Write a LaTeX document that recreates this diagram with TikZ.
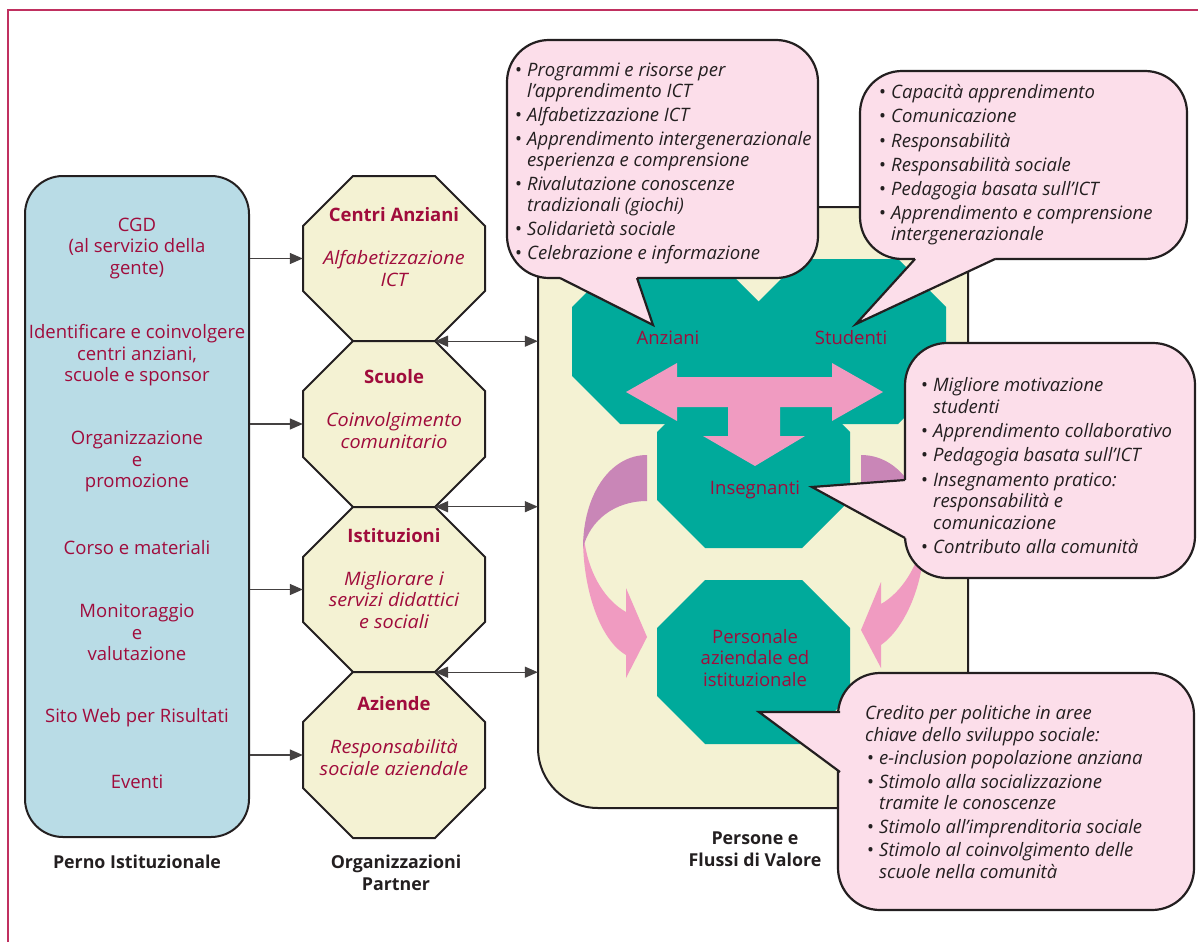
\documentclass[tikz,border=0pt]{standalone}
\usepackage{fontspec}
\setmainfont{Open Sans}
\newfontfamily\wideos{Open Sans}[FakeStretch=1.07]
\usetikzlibrary{arrows.meta}
\definecolor{crim}{RGB}{160,12,60}
\definecolor{ink}{RGB}{35,31,32}
\definecolor{framec}{RGB}{192,48,96}
\definecolor{bluef}{RGB}{185,220,230}
\definecolor{creamf}{RGB}{244,242,211}
\definecolor{tealf}{RGB}{0,170,155}
\definecolor{pinka}{RGB}{240,155,193}
\definecolor{mauve}{RGB}{201,134,183}
\definecolor{callf}{RGB}{252,222,234}
\newcommand\fs{\fontsize{18.5}{21.5}\selectfont}
\newcommand\bul{\makebox[12pt][l]{\upshape\textbullet}}
\newcommand\ind{\hspace*{12pt}}
\newcommand\wit[1]{{\wideos\itshape #1}}
\tikzset{
  octo/.style n args={5}{insert path={({#1+#5},#2) -- ({#3-#5},#2) -- (#3,{#2+#5}) -- (#3,{#4-#5}) -- ({#3-#5},#4) -- ({#1+#5},#4) -- (#1,{#4-#5}) -- (#1,{#2+#5}) -- cycle}},
  bluebox/.style={draw=ink, line width=2pt, fill=bluef, rounded corners=38pt, inner sep=0pt},
  bluetext/.style={font=\fs, text=crim, align=center},
  partoct/.style={draw=ink, line width=2pt, fill=creamf},
  hold/.style={inner sep=0pt, minimum width=182pt, minimum height=165pt},
  parttext/.style={font=\fs, text=crim, align=center},
  yelbox/.style={draw=ink, line width=2pt, fill=creamf},
  teallab/.style={font=\fs, text=crim, align=center},
  conn/.style={draw=ink!85, line width=1.3pt, -{Triangle[length=13pt,width=11pt]}},
  dconn/.style={draw=ink!85, line width=1.3pt, {Triangle[length=13pt,width=11pt]}-{Triangle[length=13pt,width=11pt]}},
  callbody/.style={fill=callf, draw=ink, line width=2.2pt, rounded corners=42pt},
  callline/.style={draw=ink, line width=2.2pt, line join=miter},
  calltext/.style={font=\fs\itshape, text=ink, inner sep=0pt, anchor=north west, align=left},
  botlab/.style={font=\fontsize{17.8}{21.5}\selectfont\bfseries, text=ink, align=center}
}
\begin{document}
\begin{tikzpicture}[x=1pt,y=-1pt]
\useasboundingbox (0,0) rectangle (1198,942);
% frame
\draw[framec, line width=1.5pt] (8,942) -- (8,10) -- (1198,10);

% left blue box
\node[bluebox, minimum width=224pt, minimum height=661pt] (blue) at (137,506.5) {};
\node[bluetext] (b1) at (137,248.5) {CGD\\(al servizio della\\gente)};
\node[bluetext] (b2) at (137,355.5) {Identificare e coinvolgere\\centri anziani,\\scuole e sponsor};
\node[bluetext] (b3) at (137,461.5) {Organizzazione\\e\\promozione};
\node[bluetext] (b4) at (137,548) {Corso e materiali};
\node[bluetext] (b5) at (137,632.5) {Monitoraggio\\e\\valutazione};
\node[bluetext] (b6) at (137,718) {Sito Web per Risultati};
\node[bluetext] (b7) at (137,782) {Eventi};

% partner octagons
\draw[partoct, octo={303}{176}{485}{341}{50}];
\draw[partoct, octo={303}{341}{485}{507}{50}];
\draw[partoct, octo={303}{507}{485}{672}{50}];
\draw[partoct, octo={303}{672}{485}{838}{50}];
\node[hold] (p1) at (394,258.5) {};
\node[hold] (p2) at (394,424) {};
\node[hold] (p3) at (394,589.5) {};
\node[hold] (p4) at (394,755) {};
\node[parttext] (t1) at (394,247) {\textbf{Centri Anziani}\\[21.5pt]\wit{Alfabetizzazione}\\\wit{ICT}};
\node[parttext] (t2) at (394,409) {\textbf{Scuole}\\[21.5pt]\wit{Coinvolgimento}\\\wit{comunitario}};
\node[parttext] (t3) at (394,578.5) {\textbf{Istituzioni}\\[21.5pt]\wit{Migliorare i}\\\wit{servizi didattici}\\\wit{e sociali}};
\node[parttext] (t4) at (394,736) {\textbf{Aziende}\\[21.5pt]\wit{Responsabilità}\\\wit{sociale aziendale}};

% yellow box
\draw[yelbox] (538,207) -- (968,207) -- (968,808) -- (598,808) .. controls (565,808) and (538,781) .. (538,748) -- cycle;
\node[inner sep=0pt, minimum width=430pt, minimum height=601pt] (yel) at (753,507.5) {};

% teal octagons
\fill[tealf, octo={572}{259}{764}{424}{48}];
\fill[tealf, octo={753}{259}{946}{424}{48}];
\fill[tealf, octo={657}{384}{850}{548}{48}];
\fill[tealf, octo={657}{580}{850}{744}{48}];

% pink T arrow
\fill[pinka] (626,392) -- (677,363) -- (677,377) -- (832,377) -- (832,363) -- (883,392) -- (832,421) -- (832,407) -- (780,407) -- (780,436) -- (805,436) -- (755,466) -- (703,436) -- (728,436) -- (728,407) -- (677,407) -- (677,421) -- cycle;

% left curved arrow
\fill[pinka] (583,538) .. controls (583,590) and (600,640) .. (626,655) -- (626,678) -- (647,637) -- (626,588) -- (626,612) .. controls (605,600) and (590,575) .. (585,545) -- cycle;
\fill[mauve] (647,455) .. controls (610,455) and (583,495) .. (583,548) .. controls (590,520) and (615,501) .. (647,501) -- cycle;
% right curved arrow
\fill[pinka] (925,532) .. controls (925,584) and (905,628) .. (881,645) -- (881,668) -- (861,630) -- (881,582) -- (881,604) .. controls (902,592) and (917,567) .. (923,540) -- cycle;
\fill[mauve] (861,455) .. controls (898,455) and (925,492) .. (925,540) .. controls (918,514) and (893,501) .. (861,501) -- cycle;

% teal labels
\node[teallab] (anz) at (668,338) {Anziani};
\node[teallab] (stu) at (851,338) {Studenti};
\node[teallab] (ins) at (755,490) {Insegnanti};
\node[teallab] (per) at (755,658) {Personale\\aziendale ed\\istituzionale};

% connectors
\draw[conn] (blue.east |- p1.west) -- (p1.west);
\draw[conn] (blue.east |- p2.west) -- (p2.west);
\draw[conn] (blue.east |- p3.west) -- (p3.west);
\draw[conn] (blue.east |- p4.west) -- (p4.west);
\coordinate (v1) at ([xshift=41pt]p1.south);
\coordinate (v2) at ([xshift=41pt]p2.south);
\coordinate (v3) at ([xshift=41pt]p3.south);
\draw[dconn] (v1) -- (yel.west |- v1);
\draw[dconn] (v2) -- (yel.west |- v2);
\draw[dconn] (v3) -- (yel.west |- v3);

% callout 1
\draw[callbody] (507,40) rectangle (818,278);
\fill[callf] (560,272) -- (560,278) -- (653,325) -- (637,278) -- (637,272) -- cycle;
\draw[callline] (560,278) -- (653,325) -- (637,278);
\node[calltext] (c1) at (515,62.5) {\bul Programmi e risorse per\\\ind l’apprendimento ICT\\[2.2pt]\bul Alfabetizzazione ICT\\[2.2pt]\bul Apprendimento intergenerazionale\\\ind esperienza e comprensione\\[2.2pt]\bul Rivalutazione conoscenze\\\ind tradizionali (giochi)\\[2.2pt]\bul Solidarietà sociale\\[2.2pt]\bul Celebrazione e informazione};

% callout 2
\draw[callbody] (860,71) rectangle (1187,259);
\fill[callf] (915,253) -- (915,259) -- (856,324) -- (995,259) -- (995,253) -- cycle;
\draw[callline] (915,259) -- (856,324) -- (995,259);
\node[calltext] (c2) at (879,84.5) {\bul Capacità apprendimento\\[2.6pt]\bul Comunicazione\\[2.6pt]\bul Responsabilità\\[2.6pt]\bul Responsabilità sociale\\[2.6pt]\bul Pedagogia basata sull’ICT\\[2.6pt]\bul Apprendimento e comprensione\\\ind intergenerazionale};

% callout 3
\draw[callbody] (905,343) rectangle (1195,578);
\fill[callf] (911,480) -- (905,480) -- (812,487) -- (905,538) -- (911,538) -- cycle;
\draw[callline] (905,480) -- (812,487) -- (905,538);
\node[calltext] (c3) at (921,377.5) {\bul Migliore motivazione\\\ind studenti\\[2.8pt]\bul Apprendimento collaborativo\\[2.8pt]\bul Pedagogia basata sull’ICT\\[2.8pt]\bul Insegnamento pratico:\\\ind responsabilità e\\\ind comunicazione\\[2.8pt]\bul Contributo alla comunità};

% callout 4
\draw[callbody] (838,673) rectangle (1194,910);
\fill[callf] (846,712) -- (840,712) -- (759,712) -- (840,772) -- (846,772) -- cycle;
\draw[callline] (840,712) -- (759,712) -- (840,772);
\node[calltext] (c4) at (865,705.5) {Credito per politiche in aree\\chiave dello sviluppo sociale:\\[2pt]\hspace*{2pt}\bul e-inclusion popolazione anziana\\[2pt]\hspace*{2pt}\bul Stimolo alla socializzazione\\\hspace*{14pt}tramite le conoscenze\\[2pt]\hspace*{2pt}\bul Stimolo all’imprenditoria sociale\\[2pt]\hspace*{2pt}\bul Stimolo al coinvolgimento delle\\\hspace*{14pt}scuole nella comunità};

% bottom labels
\node[botlab] (l1) at (137,862) {Perno Istituzionale};
\node[botlab] (l2) at (396,873) {Organizzazioni\\Partner};
\node[botlab] (l3) at (755,849) {Persone e\\Flussi di Valore};
\end{tikzpicture}
\end{document}
